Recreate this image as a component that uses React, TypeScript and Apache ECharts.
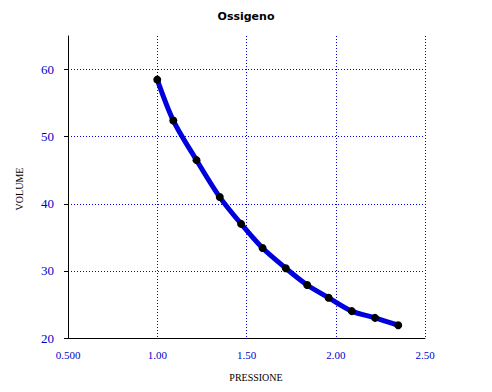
import React, { useEffect, useRef } from "react";
import * as echarts from "echarts";

const pressione = [1.0, 1.09, 1.22, 1.35, 1.47, 1.59, 1.72, 1.84, 1.96, 2.09, 2.22, 2.35];
const volume = [58.5, 52.4, 46.5, 41.0, 37.0, 33.4, 30.4, 27.9, 26.0, 24.0, 23.0, 21.9];
const titleText = "Ossigeno";
const xName = "PRESSIONE";
const yName = "VOLUME";

export default function App() {
  const ref = useRef<HTMLDivElement>(null);
  useEffect(() => {
    if (!ref.current) return;
    const chart = echarts.init(ref.current, undefined, { renderer: "svg" });
    const data = pressione.map((p, i) => [p, volume[i]]);
    chart.setOption({
      animation: false,
      backgroundColor: "#ffffff",
      title: {
        text: titleText,
        left: "center",
        top: 6,
        textStyle: { fontFamily: "DejaVu Sans", fontWeight: "bold", fontSize: 11, color: "#000" },
      },
      grid: { left: 68, right: 67, top: 36, bottom: 54 },
      xAxis: {
        type: "value",
        min: 0.5,
        max: 2.5,
        interval: 0.5,
        axisLine: { show: true, lineStyle: { color: "#000", width: 1 } },
        axisTick: { show: false },
        axisLabel: {
          color: "#0000cc",
          fontFamily: "Liberation Serif",
          fontSize: 11,
          margin: 11,
          formatter: (v: number) => (v === 0.5 ? "0.500" : v.toFixed(2)),
        },
        splitLine: {
          show: true,
          showMinLine: false,
          lineStyle: { color: "#0000ff", type: [1, 2], width: 1 },
        },
      },
      yAxis: {
        type: "value",
        min: 20,
        max: 65,
        interval: 10,
        axisLine: { show: true, lineStyle: { color: "#000", width: 1 } },
        axisTick: { show: true, length: 4, lineStyle: { color: "#000" } },
        axisLabel: {
          color: "#0000cc",
          fontFamily: "Liberation Serif",
          fontSize: 13,
          margin: 14,
          showMaxLabel: false,
          formatter: (v: number) => (v === 65 ? "" : String(v)),
        },
        splitLine: {
          show: true,
          showMinLine: false,
          showMaxLine: false,
          lineStyle: { color: "#0000ff", type: [1, 2], width: 1 },
        },
      },
      graphic: [
        {
          type: "text",
          x: 256,
          y: 377,
          style: {
            text: xName,
            fontFamily: "Liberation Serif",
            fontSize: 10,
            fill: "#000",
            align: "center",
            verticalAlign: "middle",
          },
        },
        {
          type: "text",
          x: 19,
          y: 189,
          rotation: Math.PI / 2,
          style: {
            text: yName,
            fontFamily: "Liberation Serif",
            fontSize: 10,
            fill: "#000",
            align: "center",
            verticalAlign: "middle",
          },
        },
      ],
      series: [
        {
          type: "line",
          data,
          smooth: 0.3,
          lineStyle: { color: "#0000dd", width: 5 },
          symbol: "circle",
          symbolSize: 8,
          itemStyle: { color: "#000" },
          z: 3,
        },
      ],
    });
    return () => chart.dispose();
  }, []);
  return <div ref={ref} style={{ width: 492, height: 392, position: "absolute", left: 0, top: 0 }} />;
}
